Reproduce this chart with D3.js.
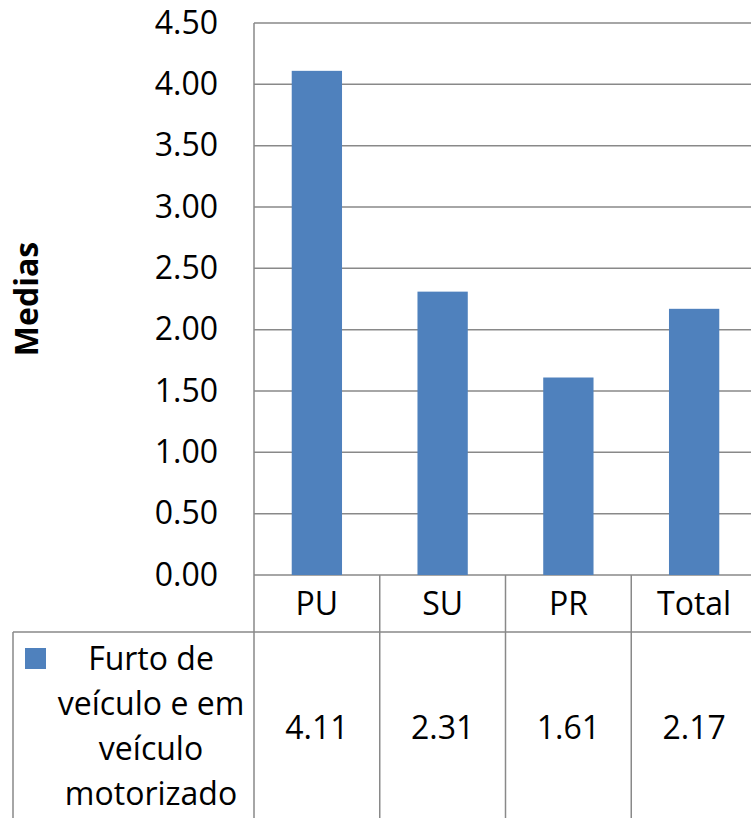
<!DOCTYPE html>
<html>
<head>
<meta charset="utf-8">
<script src="https://cdn.jsdelivr.net/npm/d3@7"></script>
<style>
  html, body { margin: 0; padding: 0; background: #fff; overflow: hidden; }
  svg { display: block; font-family: "Open Sans", "Noto Sans", sans-serif; }
</style>
</head>
<body>
<svg id="chart"></svg>
<script>
// ── data ─────────────────────────────────────────────
const categories = ["PU", "SU", "PR", "Total"];
const values = [4.11, 2.31, 1.61, 2.17];
const seriesName = ["Furto de", "veículo e em", "veículo", "motorizado"];
const yTicks = [0, 0.5, 1, 1.5, 2, 2.5, 3, 3.5, 4, 4.5];

const W = 751, H = 818;
const BAR = "#4F81BD", LINE = "#898989";
const FS = 32;

const svg = d3.select("#chart").attr("width", W).attr("height", H);

// plot area (right side runs off the picture like in the original)
const plotL = 254, plotT = 23, plotB = 575, plotR = 757;
const catBottom = 632, tableLeft = 13;

const x = d3.scaleBand().domain(categories).range([plotL, plotR]).padding(0);
const y = d3.scaleLinear().domain([0, 4.5]).range([plotB, plotT]);

// gridlines
svg.append("g")
  .selectAll("line")
  .data(yTicks)
  .join("line")
  .attr("x1", plotL).attr("x2", W)
  .attr("y1", (d) => y(d)).attr("y2", (d) => y(d))
  .attr("stroke", LINE).attr("stroke-width", 1.5);

// bars
const bw = x.bandwidth() * 0.4;
svg.append("g")
  .selectAll("rect")
  .data(values)
  .join("rect")
  .attr("x", (d, i) => x(categories[i]) + (x.bandwidth() - bw) / 2)
  .attr("y", (d) => y(d))
  .attr("width", bw)
  .attr("height", (d) => y(0) - y(d))
  .attr("fill", BAR);

// y axis
const yAxis = svg.append("g")
  .attr("transform", `translate(${plotL},0)`)
  .call(d3.axisLeft(y).tickValues(yTicks).tickFormat(d3.format(".2f")).tickSize(0).tickPadding(36));
yAxis.select(".domain").attr("stroke", LINE).attr("stroke-width", 1.5)
  .attr("d", `M0,${plotT}V${H}`);
yAxis.selectAll("text")
  .attr("font-family", '"Open Sans", sans-serif')
  .attr("font-size", FS).attr("fill", "#000");

svg.append("text")
  .attr("transform", `translate(38,299) rotate(-90)`)
  .attr("text-anchor", "middle")
  .attr("font-size", FS).attr("font-weight", "bold")
  .text("Medias");

// data table lines
const grid = svg.append("g").attr("stroke", LINE).attr("stroke-width", 1.5);
categories.slice(1).forEach((c) => {
  grid.append("line").attr("x1", x(c)).attr("x2", x(c)).attr("y1", plotB).attr("y2", H);
});
grid.append("line").attr("x1", tableLeft).attr("x2", W).attr("y1", catBottom).attr("y2", catBottom);
grid.append("line").attr("x1", tableLeft).attr("x2", tableLeft).attr("y1", catBottom).attr("y2", H);

// category labels
svg.append("g")
  .selectAll("text")
  .data(categories)
  .join("text")
  .attr("x", (d) => x(d) + x.bandwidth() / 2)
  .attr("y", (plotB + catBottom) / 2)
  .attr("dy", "0.36em")
  .attr("text-anchor", "middle")
  .attr("font-size", FS)
  .text((d) => d);

// value row
const rowMid = 727;
svg.append("g")
  .selectAll("text")
  .data(values)
  .join("text")
  .attr("x", (d, i) => x(categories[i]) + x.bandwidth() / 2)
  .attr("y", rowMid)
  .attr("dy", "0.36em")
  .attr("text-anchor", "middle")
  .attr("font-size", FS)
  .text((d) => d3.format(".2f")(d));

// legend key + series name
svg.append("rect")
  .attr("x", 25).attr("y", 648).attr("width", 21).attr("height", 21)
  .attr("fill", BAR);
svg.append("g")
  .selectAll("text")
  .data(seriesName)
  .join("text")
  .attr("x", 151)
  .attr("y", (d, i) => 670 + i * 45)
  .attr("text-anchor", "middle")
  .attr("font-size", FS)
  .text((d) => d);
</script>
</body>
</html>
